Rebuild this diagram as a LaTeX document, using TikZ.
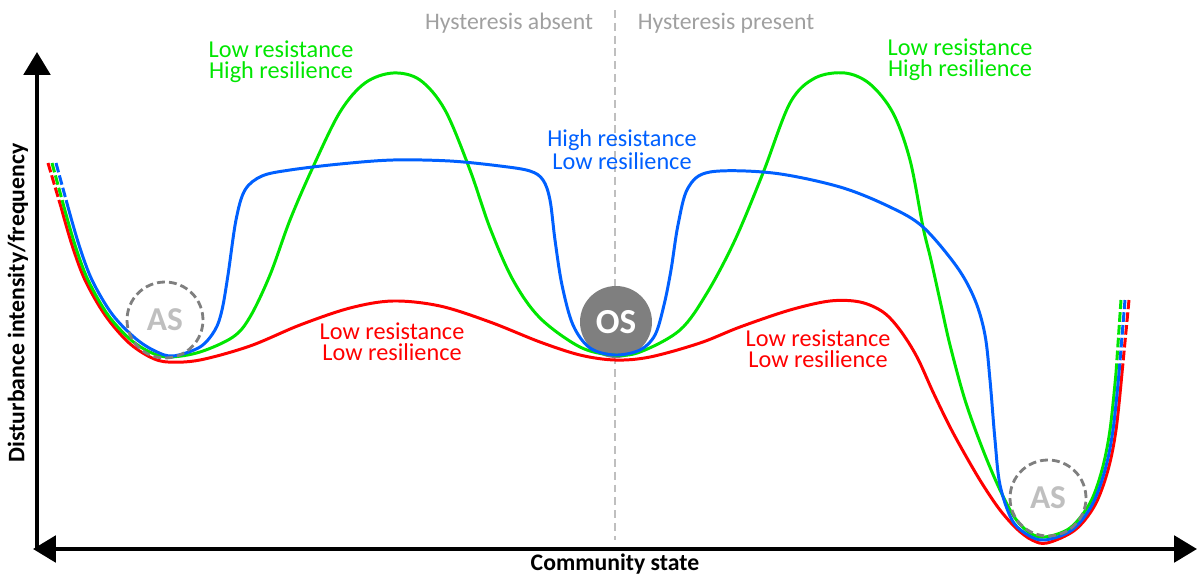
\documentclass[tikz,border=0pt]{standalone}
\usepackage{fontspec}
\setmainfont{Carlito}
\usetikzlibrary{arrows.meta}
\definecolor{cred}{HTML}{FF0000}
\definecolor{cgreen}{HTML}{00E600}
\definecolor{cblue}{HTML}{0060FF}
\definecolor{gline}{HTML}{BFBFBF}
\definecolor{gtext}{HTML}{A0A0A0}
\definecolor{osfill}{HTML}{7F7F7F}
\begin{document}
\begin{tikzpicture}[x=0.02cm,y=-0.02cm,
  curve/.style={line width=1.7pt, line join=round},
  dashend/.style={line width=1.7pt, dash pattern=on 5.5pt off 1.8pt},
  lbl/.style={font=\fontsize{13.8}{11.8}\selectfont, align=center, inner sep=0pt},
  axis/.style={line width=2.3pt, black},
  ascircle/.style={circle, draw=osfill, line width=1.6pt, dash pattern=on 4.5pt off 2.3pt, minimum size=1.52cm, inner sep=0pt, text=gline, font=\bfseries\fontsize{19}{19}\selectfont},
  oscircle/.style={circle, fill=osfill, minimum size=1.44cm, inner sep=0pt, text=white, font=\bfseries\fontsize{20}{20}\selectfont},
  hyst/.style={font=\fontsize{13.5}{13.5}\selectfont, text=gtext, inner sep=0pt},
  axlbl/.style={font=\bfseries\fontsize{13.5}{13.5}\selectfont, inner sep=0pt}
]
\useasboundingbox (0,0) rectangle (1198,575);

% divider
\coordinate (divtop) at (615,10);
\coordinate (divbot) at (615,540);
\draw[gline, line width=1.6pt, dash pattern=on 4.5pt off 2.8pt] (divtop) -- (divbot);

% OS circle
\node[oscircle] (os) at (616,322) {OS};

% red curve
\draw[cred, dashend] (48,163) -- (61,207);
\draw[cred, curve] plot[smooth, tension=0.55] coordinates {(61,207) (72,245) (85,280) (105,315) (128,342) (150,357) (168,362) (200,360) (250,346) (300,325) (350,308) (393,301) (440,306) (490,322) (540,342) (580,355) (615,360) (650,357) (700,343) (740,327) (790,310) (830,301) (860,302) (883,312) (900,330) (917,357) (933,392) (950,427) (967,458) (983,485) (1000,510) (1017,529) (1032,540) (1047,543) (1075,530) (1095,505) (1108,470) (1116,430) (1122,373)};
\draw[cred, dashend] (1122,373) -- (1129,300);

% green curve
\draw[cgreen, dashend] (52,163) -- (64,207);
\draw[cgreen, curve] plot[smooth, tension=0.55] coordinates {(64,207) (75,245) (88,280) (108,315) (131,340) (152,353) (170,357) (200,352) (233,337) (250,317) (270,275) (290,220) (313,167) (340,112) (365,83) (393,73) (420,80) (445,110) (470,170) (490,228) (513,280) (540,318) (580,347) (613,355) (640,352) (680,330) (707,293) (735,240) (763,173) (790,103) (815,78) (845,73) (870,84) (893,113) (910,160) (923,227) (931,260) (941,305) (950,345) (965,400) (983,450) (1000,490) (1015,518) (1030,533) (1045,537) (1070,528) (1090,503) (1102,470) (1110,430) (1116,373)};
\draw[cgreen, dashend] (1116,373) -- (1121,300);

% blue curve
\draw[cblue, dashend] (56,163) -- (68,207);
\draw[cblue, curve] plot[smooth, tension=0.55] coordinates {(68,207) (79,245) (92,280) (112,314) (135,338) (155,351) (173,356) (200,347) (215,330) (222,310) (228,275) (236,220) (245,190) (262,176) (290,170) (340,164) (393,160) (450,161) (500,166) (530,171) (543,180) (550,200) (555,240) (562,285) (573,325) (590,348) (615,355) (640,350) (655,335) (664,305) (671,270) (678,225) (688,188) (710,172) (773,173) (840,187) (890,207) (923,227) (957,267) (975,300) (985,335) (990,380) (995,440) (1000,485) (1012,520) (1028,535) (1045,540) (1072,530) (1092,505) (1105,470) (1113,430) (1119,373)};
\draw[cblue, dashend] (1119,373) -- (1125,300);

% AS circles
\node[ascircle] (as1) at (165,320) {AS};
\node[ascircle] (as2) at (1048,498) {AS};

% axes
\coordinate (origin) at (37,549);
\coordinate (ytop) at (37,52);
\coordinate (xleft) at (33,549);
\coordinate (xright) at (1197,549);
\draw[axis, -{Triangle[length=13pt,width=15pt]}] (origin) -- (ytop);
\draw[axis, {Triangle[length=13pt,width=15pt]}-{Triangle[length=13pt,width=15pt]}] (xleft) -- (xright);

% labels
\node[lbl, text=cgreen] (g1) at (281,62) {Low resistance\\High resilience};
\node[lbl, text=cgreen] (g2) at (960,60) {Low resistance\\High resilience};
\node[lbl, text=cblue] (b1) at (622,150) {High resistance\\Low resilience};
\node[lbl, text=cred] (r1) at (392,342) {Low resistance\\Low resilience};
\node[lbl, text=cred] (r2) at (818,349) {Low resistance\\Low resilience};
\node[hyst] (ha) at (509,23) {Hysteresis absent};
\node[hyst] (hp) at (726,23) {Hysteresis present};
\node[axlbl] (xl) at (615,564) {Community state};
\node[axlbl, rotate=90] (yl) at (18,303) {Disturbance intensity/frequency};
\end{tikzpicture}
\end{document}
